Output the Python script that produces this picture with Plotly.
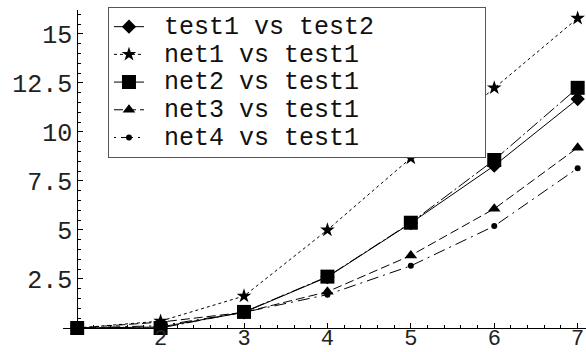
import plotly.graph_objects as go

# Data
x_vals = [1, 2, 3, 4, 5, 6, 7]
test1_vs_test2 = [0.0, 0.05, 0.80, 2.60, 5.35, 8.28, 11.68]
net1_vs_test1 = [0.0, 0.35, 1.63, 5.00, 8.67, 12.25, 15.80]
net2_vs_test1 = [0.0, 0.00, 0.82, 2.62, 5.37, 8.57, 12.25]
net3_vs_test1 = [0.0, 0.30, 0.80, 1.85, 3.70, 6.08, 9.20]
net4_vs_test1 = [0.0, 0.12, 0.80, 1.70, 3.17, 5.20, 8.15]

series_names = ["test1 vs test2", "net1 vs test1", "net2 vs test1",
                "net3 vs test1", "net4 vs test1"]

x_ticks = [2, 3, 4, 5, 6, 7]
y_ticks = [2.5, 5, 7.5, 10, 12.5, 15]
y_tick_text = ["2.5", "5", "7.5", "10", "12.5", "15"]

FONT = "Liberation Mono, Courier New, monospace"
TEXT_SIZE = 25

styles = [
    dict(dash="solid", symbol="diamond", size=11),
    dict(dash="dot", symbol="star", size=11),
    dict(dash="14px,3px,2px,3px", symbol="square", size=14),
    dict(dash="9px,4px", symbol="triangle-up", size=11),
    dict(dash="2px,5px,12px,5px", symbol="circle", size=6),
]
series = [test1_vs_test2, net1_vs_test1, net2_vs_test1, net3_vs_test1, net4_vs_test1]


def legend_label(name):
    # larger text inside a compact legend row, padded on both sides
    pad_l = "\u00a0"
    pad_r = "\u00a0" * 7
    return f"<span style='font-size:{TEXT_SIZE}px'>{pad_l}{name}{pad_r}</span>"


fig = go.Figure()
for name, ys, st in zip(series_names, series, styles):
    fig.add_trace(go.Scatter(
        x=x_vals, y=ys, name=legend_label(name), mode="lines+markers",
        line=dict(color="black", width=1, dash=st["dash"]),
        marker=dict(color="black", symbol=st["symbol"], size=st["size"],
                    line=dict(width=0)),
        cliponaxis=False,
    ))

x_lo, x_hi = 0.83, 7.1
y_pos = (1 - x_lo) / (x_hi - x_lo)

fig.update_layout(
    width=586, height=352,
    margin=dict(l=63, r=0, t=10, b=24),
    paper_bgcolor="white", plot_bgcolor="white",
    font=dict(family=FONT, size=TEXT_SIZE, color="#222"),
    showlegend=True,
    legend=dict(
        x=0.086, y=1.01, xanchor="left", yanchor="top",
        bgcolor="white", bordercolor="#555", borderwidth=1,
        font=dict(family=FONT, size=19, color="#111"),
        tracegroupgap=0, itemwidth=30,
    ),
    xaxis=dict(
        range=[x_lo, x_hi], showgrid=False, zeroline=False,
        showline=True, linecolor="black", linewidth=1, automargin=False,
        tickmode="array", tickvals=x_ticks, ticktext=[str(v) for v in x_ticks],
        tickfont=dict(size=22), ticklabelstandoff=-10,
        ticks="inside", ticklen=5, tickcolor="black",
        minor=dict(tickmode="array",
                   tickvals=[round(1 + 0.2 * i, 1) for i in range(31) if i % 5 != 0],
                   ticks="inside", ticklen=3, tickcolor="black"),
        anchor="y",
    ),
    yaxis=dict(
        range=[0, 16.22], showgrid=False, zeroline=False,
        showline=True, linecolor="black", linewidth=1, automargin=False,
        anchor="free", position=y_pos,
        tickmode="array", tickvals=y_ticks, ticktext=y_tick_text,
        ticks="inside", ticklen=5, tickcolor="black",
        minor=dict(tickmode="array",
                   tickvals=[0.5 * i for i in range(1, 33) if i % 5 != 0],
                   ticks="inside", ticklen=3, tickcolor="black"),
    ),
)

fig.write_html("out.html")
